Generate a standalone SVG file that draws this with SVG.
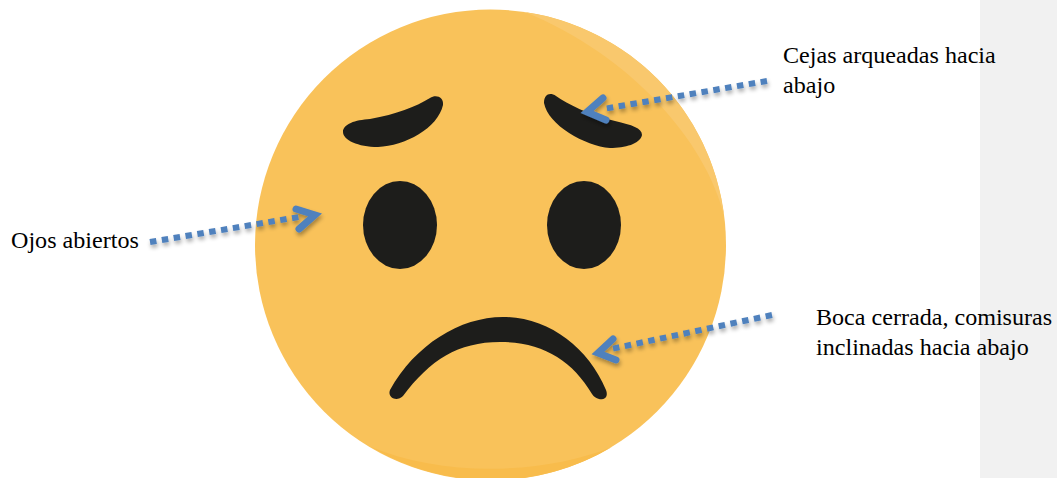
<svg xmlns="http://www.w3.org/2000/svg" width="1057" height="478" viewBox="0 0 1057 478">
<style>
.lbl{font-family:"Liberation Serif","Times New Roman",serif;font-size:24.1px;fill:#000}
.dark{fill:#1d1d1b}
.shaft{fill:none;stroke:#4f81bd;stroke-width:6;stroke-dasharray:6.500 5.500}
.head{fill:none;stroke:#4f81bd;stroke-width:7;stroke-linejoin:miter;stroke-miterlimit:8;stroke-linecap:round}
</style>
<defs>
<filter id="sh" x="-10%" y="-40%" width="120%" height="180%">
<feGaussianBlur in="SourceAlpha" stdDeviation="2"/>
<feOffset dx="1" dy="3"/>
<feComponentTransfer><feFuncA type="linear" slope="0.35"/></feComponentTransfer>
<feMerge><feMergeNode/><feMergeNode in="SourceGraphic"/></feMerge>
</filter>
</defs>
<rect id="panel" x="980" y="0" width="77" height="478" fill="#f1f1f1"/>
<g id="face">
<circle cx="490.500" cy="245" r="235.500" fill="#f9c25a"/>
<path d="M525,12 A235.500,235.500 0 0 1 724,215 C705,140 630,55 525,12 Z" fill="#f9c86d"/>
<path d="M371,447 C440,476 540,476 612,447 A235.500,235.500 0 0 1 371,447 Z" fill="#f8bc4c"/>
</g>
<g id="eyebrow-left"><path class="dark" d="M430,98 C415,107 397,114 370,119 C355,120 343,124 343,132 C343,140 358,147 378,147 C405,146 438,128 443,105 C444,97 436,94 430,98 Z"/></g>
<g id="eyebrow-right"><path class="dark" d="M556,96 C568,104 588,115 615,121 C632,125 642,128 642,135 C640,144 625,148 610,148 C585,146 548,125 544,103 C544,94 550,92 556,96 Z"/></g>
<g id="eye-left"><ellipse class="dark" cx="400" cy="225" rx="37" ry="44"/></g>
<g id="eye-right"><ellipse class="dark" cx="584" cy="225" rx="37" ry="44"/></g>
<g id="mouth"><path class="dark" d="M390,390 C415,345 460,317 503,317 C548,317 588,347 606,390 C609,398 603,400 599,399 C596,398 594,397 592,394 C572,360 542,342 500,342 C458,342 430,360 403,396 C397,402 387,398 390,390 Z"/></g>
<g id="connectors">
<g filter="url(#sh)"><path class="shaft" d="M767,81 L603,109"/><path class="head" d="M603,98 L587,112 L606,120"/></g>
<g filter="url(#sh)"><path class="shaft" d="M150,242 L299,217"/><path class="head" d="M296,209 L315,215 L299,229"/></g>
<g filter="url(#sh)"><path class="shaft" d="M772,315 L611,349"/><path class="head" d="M613,339 L598,353 L616,360"/></g>
</g>
<g id="label-cejas"><text class="lbl" x="783" y="63">Cejas arqueadas hacia</text><text class="lbl" x="783" y="93">abajo</text></g>
<g id="label-ojos"><text class="lbl" x="11" y="248">Ojos abiertos</text></g>
<g id="label-boca"><text class="lbl" x="816" y="325">Boca cerrada, comisuras</text><text class="lbl" x="816" y="355">inclinadas hacia abajo</text></g>
</svg>
